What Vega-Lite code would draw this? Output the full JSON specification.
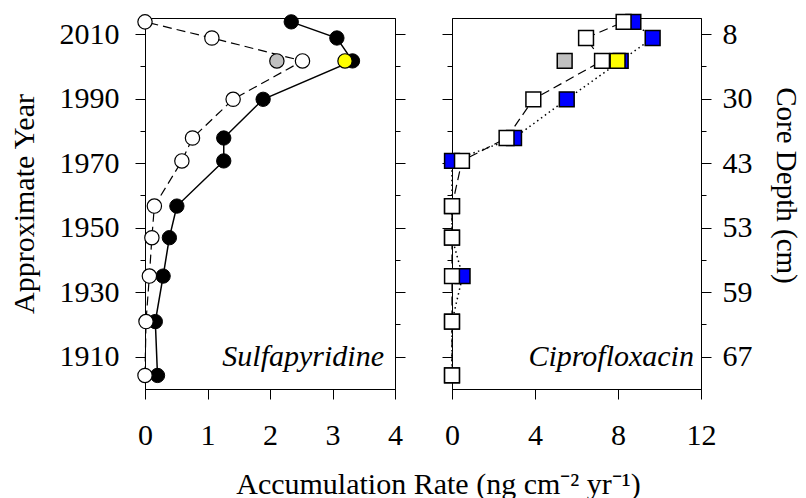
{
  "$schema": "https://vega.github.io/schema/vega-lite/v6.json",
  "background": "white",
  "padding": {"left": 8, "top": 10, "right": 10, "bottom": 6},
  "bounds": "flush",
  "spacing": 57,
  "resolve": {"scale": {"x": "independent", "y": "independent"}},
  "config": {
    "font": "Liberation Serif",
    "view": {"stroke": "black", "strokeWidth": 1},
    "axis": {
      "labelFont": "Liberation Serif", "titleFont": "Liberation Serif",
      "labelFontSize": 30, "titleFontSize": 30, "titleFontWeight": "normal",
      "labelColor": "black", "titleColor": "black",
      "domainColor": "black", "tickColor": "black", "domainWidth": 1, "tickWidth": 1,
      "grid": false, "labelFlush": false, "labelOverlap": false, "labelBound": false
    }
  },
  "datasets": {
    "sulfa": [
      {"series": "filled", "rate": 2.34, "year": 2013.8},
      {"series": "filled", "rate": 3.07, "year": 2008.8},
      {"series": "filled", "rate": 3.32, "year": 2001.7},
      {"series": "filled", "rate": 1.89, "year": 1989.8},
      {"series": "filled", "rate": 1.26, "year": 1977.8},
      {"series": "filled", "rate": 1.26, "year": 1970.7},
      {"series": "filled", "rate": 0.51, "year": 1956.7},
      {"series": "filled", "rate": 0.39, "year": 1946.9},
      {"series": "filled", "rate": 0.29, "year": 1935.0},
      {"series": "filled", "rate": 0.165, "year": 1920.9},
      {"series": "filled", "rate": 0.2, "year": 1904.2},
      {"series": "open", "rate": 0.0, "year": 2013.8},
      {"series": "open", "rate": 1.07, "year": 2008.8},
      {"series": "open", "rate": 2.52, "year": 2001.7},
      {"series": "open", "rate": 1.41, "year": 1989.8},
      {"series": "open", "rate": 0.76, "year": 1977.8},
      {"series": "open", "rate": 0.59, "year": 1970.7},
      {"series": "open", "rate": 0.15, "year": 1956.7},
      {"series": "open", "rate": 0.11, "year": 1946.9},
      {"series": "open", "rate": 0.07, "year": 1935.0},
      {"series": "open", "rate": 0.016, "year": 1920.9},
      {"series": "open", "rate": 0.0, "year": 1904.2},
      {"series": "gray", "rate": 2.11, "year": 2001.7},
      {"series": "yellow", "rate": 3.2, "year": 2001.7}
    ],
    "cipro": [
      {"series": "open", "rate": 8.27, "year": 2013.8},
      {"series": "open", "rate": 6.46, "year": 2008.8},
      {"series": "open", "rate": 7.23, "year": 2001.7},
      {"series": "open", "rate": 3.92, "year": 1989.8},
      {"series": "open", "rate": 2.63, "year": 1977.8},
      {"series": "open", "rate": 0.48, "year": 1970.7},
      {"series": "open", "rate": 0.0, "year": 1956.7},
      {"series": "open", "rate": 0.0, "year": 1946.9},
      {"series": "open", "rate": 0.0, "year": 1935.0},
      {"series": "open", "rate": 0.0, "year": 1920.9},
      {"series": "open", "rate": 0.0, "year": 1904.2},
      {"series": "blue", "rate": 8.74, "year": 2013.8},
      {"series": "blue", "rate": 9.67, "year": 2008.8},
      {"series": "blue", "rate": 8.13, "year": 2001.7},
      {"series": "blue", "rate": 5.53, "year": 1989.8},
      {"series": "blue", "rate": 2.99, "year": 1977.8},
      {"series": "blue", "rate": 0.0, "year": 1970.7},
      {"series": "blue", "rate": 0.0, "year": 1956.7},
      {"series": "blue", "rate": 0.0, "year": 1946.9},
      {"series": "blue", "rate": 0.51, "year": 1935.0},
      {"series": "blue", "rate": 0.0, "year": 1920.9},
      {"series": "blue", "rate": 0.0, "year": 1904.2},
      {"series": "gray", "rate": 5.43, "year": 2001.7},
      {"series": "yellow", "rate": 7.98, "year": 2001.7}
    ],
    "labels": [
      {"panel": "sulfa", "text": "Sulfapyridine", "rate": 3.824, "year": 1907.2},
      {"panel": "cipro", "text": "Ciprofloxacin", "rate": 11.66, "year": 1907.2}
    ]
  },
  "hconcat": [
    {
      "width": 250,
      "height": 371,
      "resolve": {"axis": {"y": "independent"}},
      "encoding": {
        "x": {"field": "rate", "type": "quantitative",
          "scale": {"domain": [0, 4], "nice": false, "zero": false},
          "axis": {"orient": "bottom", "values": [0, 1, 2, 3, 4], "tickSize": 10, "labelPadding": 21,
            "title": "Accumulation Rate (ng cm⁻² yr⁻¹)", "titleX": 293, "titlePadding": 19}},
        "y": {"field": "year", "type": "quantitative",
          "scale": {"domain": [1900, 2015], "nice": false, "zero": false}, "axis": null}
      },
      "layer": [
        {
          "data": {"name": "sulfa"},
          "transform": [{"filter": "datum.series == 'filled'"}],
          "mark": {"type": "line", "color": "black", "strokeWidth": 1.5},
          "encoding": {
            "order": {"field": "year", "type": "quantitative"},
            "y": {"field": "year", "type": "quantitative",
              "scale": {"domain": [1900, 2015], "nice": false, "zero": false},
              "axis": {"orient": "left", "values": [1910, 1920, 1930, 1940, 1950, 1960, 1970, 1980, 1990, 2000, 2010],
                "format": "d", "labelExpr": "datum.value % 20 == 10 ? datum.label : ''",
                "tickSize": {"condition": {"test": "datum.value % 20 == 10", "value": 10}, "value": 5},
                "labelPadding": 16, "title": "Approximate Year", "titlePadding": 20}}
          }
        },
        {
          "data": {"name": "sulfa"},
          "transform": [{"filter": "datum.series == 'open'"}],
          "mark": {"type": "line", "color": "black", "strokeWidth": 1.2, "strokeDash": [9, 5]},
          "encoding": {
            "order": {"field": "year", "type": "quantitative"},
            "y": {"field": "year", "type": "quantitative",
              "scale": {"domain": [1900, 2015], "nice": false, "zero": false},
              "axis": {"orient": "right", "values": [1910, 1920, 1930, 1940, 1950, 1960, 1970, 1980, 1990, 2000, 2010],
                "labels": false, "title": null,
                "tickSize": {"condition": {"test": "datum.value % 20 == 10", "value": 10}, "value": 5}}}
          }
        },
        {
          "data": {"name": "sulfa"},
          "transform": [{"filter": "datum.series == 'filled'"}],
          "mark": {"type": "point", "shape": "circle", "filled": true, "fill": "black", "stroke": "black", "strokeWidth": 1, "size": 205, "opacity": 1}
        },
        {
          "data": {"name": "sulfa"},
          "transform": [{"filter": "datum.series == 'open'"}],
          "mark": {"type": "point", "shape": "circle", "filled": true, "fill": "white", "stroke": "black", "strokeWidth": 1.2, "size": 205, "opacity": 1}
        },
        {
          "data": {"name": "sulfa"},
          "transform": [{"filter": "datum.series == 'gray'"}],
          "mark": {"type": "point", "shape": "circle", "filled": true, "fill": "#c0c0c0", "stroke": "black", "strokeWidth": 1.2, "size": 205, "opacity": 1}
        },
        {
          "data": {"name": "sulfa"},
          "transform": [{"filter": "datum.series == 'yellow'"}],
          "mark": {"type": "point", "shape": "circle", "filled": true, "fill": "#ffff00", "stroke": "black", "strokeWidth": 1.2, "size": 205, "opacity": 1}
        },
        {
          "data": {"name": "labels"},
          "transform": [{"filter": "datum.panel == 'sulfa'"}],
          "mark": {"type": "text", "align": "right", "baseline": "alphabetic", "font": "Liberation Serif", "fontSize": 30, "fontStyle": "italic", "color": "black"},
          "encoding": {"text": {"field": "text"}}
        }
      ]
    },
    {
      "width": 249,
      "height": 371,
      "resolve": {"axis": {"y": "independent"}},
      "encoding": {
        "x": {"field": "rate", "type": "quantitative",
          "scale": {"domain": [0, 12], "nice": false, "zero": false},
          "axis": {"orient": "bottom", "values": [0, 4, 8, 12], "tickSize": 10, "labelPadding": 21, "title": null}},
        "y": {"field": "year", "type": "quantitative",
          "scale": {"domain": [1900, 2015], "nice": false, "zero": false}, "axis": null}
      },
      "layer": [
        {
          "data": {"name": "cipro"},
          "transform": [{"filter": "datum.series == 'blue'"}],
          "mark": {"type": "line", "color": "black", "strokeWidth": 1.5, "strokeDash": [1.5, 3.3]},
          "encoding": {
            "order": {"field": "year", "type": "quantitative"},
            "y": {"field": "year", "type": "quantitative",
              "scale": {"domain": [1900, 2015], "nice": false, "zero": false},
              "axis": {"orient": "left", "values": [1910, 1920, 1930, 1940, 1950, 1960, 1970, 1980, 1990, 2000, 2010],
                "labels": false, "title": null,
                "tickSize": {"condition": {"test": "datum.value % 20 == 10", "value": 10}, "value": 5}}}
          }
        },
        {
          "data": {"name": "cipro"},
          "transform": [{"filter": "datum.series == 'open'"}],
          "mark": {"type": "line", "color": "black", "strokeWidth": 1.2, "strokeDash": [9, 5]},
          "encoding": {
            "order": {"field": "year", "type": "quantitative"},
            "y": {"field": "year", "type": "quantitative",
              "scale": {"domain": [1900, 2015], "nice": false, "zero": false},
              "axis": {"orient": "right", "values": [1910, 1920, 1930, 1940, 1950, 1960, 1970, 1980, 1990, 2000, 2010],
                "labelExpr": "datum.value == 2010 ? '8' : datum.value == 1990 ? '30' : datum.value == 1970 ? '43' : datum.value == 1950 ? '53' : datum.value == 1930 ? '59' : datum.value == 1910 ? '67' : ''",
                "tickSize": {"condition": {"test": "datum.value % 20 == 10", "value": 10}, "value": 5},
                "labelPadding": 11, "title": "Core Depth (cm)", "titleFontSize": 29, "titlePadding": 18, "titleY": 167}}
          }
        },
        {
          "data": {"name": "cipro"},
          "transform": [{"filter": "datum.series == 'blue'"}],
          "mark": {"type": "point", "shape": "square", "filled": true, "fill": "#0000ff", "stroke": "black", "strokeWidth": 1.5, "size": 220, "opacity": 1}
        },
        {
          "data": {"name": "cipro"},
          "transform": [{"filter": "datum.series == 'open'"}],
          "mark": {"type": "point", "shape": "square", "filled": true, "fill": "white", "stroke": "black", "strokeWidth": 1.5, "size": 220, "opacity": 1}
        },
        {
          "data": {"name": "cipro"},
          "transform": [{"filter": "datum.series == 'gray'"}],
          "mark": {"type": "point", "shape": "square", "filled": true, "fill": "#c0c0c0", "stroke": "black", "strokeWidth": 1.5, "size": 220, "opacity": 1}
        },
        {
          "data": {"name": "cipro"},
          "transform": [{"filter": "datum.series == 'yellow'"}],
          "mark": {"type": "point", "shape": "square", "filled": true, "fill": "#ffff00", "stroke": "black", "strokeWidth": 1.5, "size": 220, "opacity": 1}
        },
        {
          "data": {"name": "labels"},
          "transform": [{"filter": "datum.panel == 'cipro'"}],
          "mark": {"type": "text", "align": "right", "baseline": "alphabetic", "font": "Liberation Serif", "fontSize": 30, "fontStyle": "italic", "color": "black"},
          "encoding": {"text": {"field": "text"}}
        }
      ]
    }
  ]
}
